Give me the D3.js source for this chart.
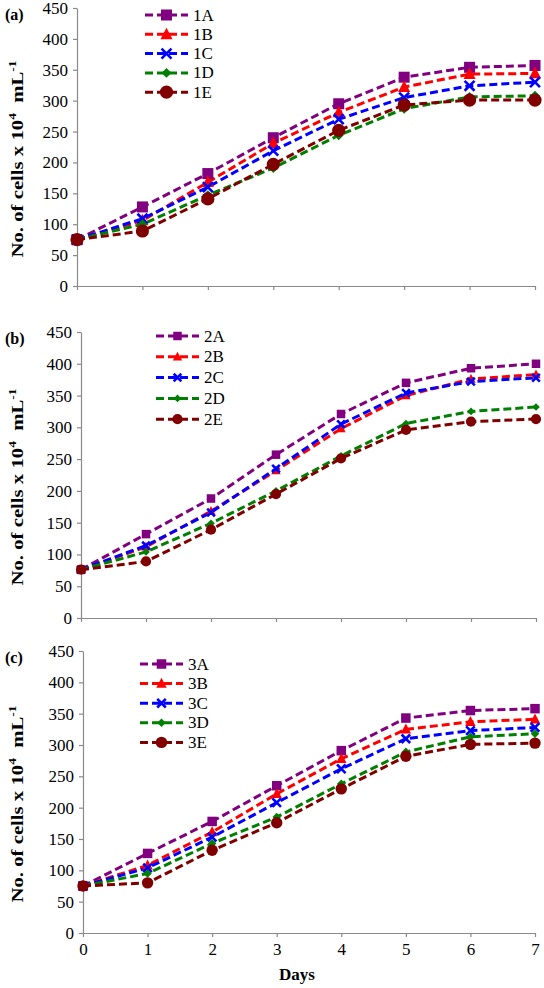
<!DOCTYPE html>
<html>
<head>
<meta charset="utf-8">
<script src="https://cdn.jsdelivr.net/npm/d3@7/dist/d3.min.js"></script>
<style>
  html, body { margin: 0; padding: 0; background: #fff; }
  svg { display: block; }
  svg text { font-family: "Liberation Serif", "DejaVu Serif", serif !important; }
</style>
</head>
<body>
<svg id="chart" width="544" height="988"></svg>
<script>
// ---- data ----
const days = [0, 1, 2, 3, 4, 5, 6, 7];
const yTicks = [0, 50, 100, 150, 200, 250, 300, 350, 400, 450];
const panelLabels = ["(a)", "(b)", "(c)"];

const namesA = ["1A", "1B", "1C", "1D", "1E"];
const s1A = [75, 128, 182, 240, 295, 338, 354, 357];
const s1B = [75, 106, 168, 231, 281, 322, 343, 344];
const s1C = [75, 109, 160, 219, 270, 305, 324, 330];
const s1D = [75, 100, 147, 191, 244, 287, 306, 308];
const s1E = [75, 89, 141, 197, 252, 293, 301, 301];

const namesB = ["2A", "2B", "2C", "2D", "2E"];
const s2A = [76, 132, 188, 257, 321, 370, 393, 400];
const s2B = [76, 112, 168, 232, 298, 350, 376, 383];
const s2C = [76, 114, 166, 235, 305, 354, 372, 378];
const s2D = [76, 104, 149, 200, 255, 306, 325, 332];
const s2E = [76, 89, 139, 195, 251, 296, 309, 313];

const namesC = ["3A", "3B", "3C", "3D", "3E"];
const s3A = [75, 127, 178, 235, 291, 343, 355, 358];
const s3B = [75, 108, 161, 222, 278, 325, 337, 341];
const s3C = [75, 104, 153, 208, 262, 310, 323, 328];
const s3D = [75, 95, 143, 185, 238, 289, 313, 318];
const s3E = [75, 80, 132, 176, 230, 282, 301, 303];

// ---- styles ----
const colors = ["#800080", "#FF0000", "#0000FF", "#008000", "#800000"];
const shapes = ["square", "triangle", "x", "diamond", "circle"];

const panels = [
  { label: panelLabels[0], names: namesA, series: [s1A, s1B, s1C, s1D, s1E],
    x0: 77, x1: 535, yb: 286, yt: 8, ms: 1.1, legX: 145, legY: 15, legStep: 19.3, xLabels: false },
  { label: panelLabels[1], names: namesB, series: [s2A, s2B, s2C, s2D, s2E],
    x0: 81, x1: 536, yb: 618, yt: 332, ms: 0.85, legX: 156, legY: 336, legStep: 20.8, xLabels: false },
  { label: panelLabels[2], names: namesC, series: [s3A, s3B, s3C, s3D, s3E],
    x0: 83, x1: 535, yb: 933, yt: 651, ms: 0.95, legX: 140, legY: 664, legStep: 19.6, xLabels: true }
];

const svg = d3.select("#chart");
const axisColor = "#8a8a8a";
const serif = "'Liberation Serif', 'DejaVu Serif', serif";

function drawMarker(g, shape, cx, cy, color, k) {
  if (shape === "square") {
    const s = 10 * k;
    g.append("rect").attr("x", cx - s / 2).attr("y", cy - s / 2).attr("width", s).attr("height", s).attr("fill", color);
  } else if (shape === "triangle") {
    const s = 11 * k;
    g.append("path").attr("d", `M${cx},${cy - s * 0.55} L${cx + s / 2},${cy + s * 0.4} L${cx - s / 2},${cy + s * 0.4} Z`).attr("fill", color);
  } else if (shape === "x") {
    const s = 4.5 * k;
    g.append("path").attr("d", `M${cx - s},${cy - s} L${cx + s},${cy + s} M${cx - s},${cy + s} L${cx + s},${cy - s}`)
      .attr("stroke", color).attr("stroke-width", 2.6).attr("fill", "none");
  } else if (shape === "diamond") {
    const s = 4.5 * k;
    g.append("path").attr("d", `M${cx},${cy - s} L${cx + s},${cy} L${cx},${cy + s} L${cx - s},${cy} Z`).attr("fill", color);
  } else if (shape === "circle") {
    g.append("circle").attr("cx", cx).attr("cy", cy).attr("r", 6 * k).attr("fill", color);
  }
}

panels.forEach((p) => {
  const g = svg.append("g");
  const x = d3.scaleLinear().domain([0, 7]).range([p.x0, p.x1]);
  const y = d3.scaleLinear().domain([0, 450]).range([p.yb, p.yt]);

  // y axis
  const yAxis = g.append("g").attr("transform", `translate(${p.x0},0)`)
    .call(d3.axisLeft(y).tickValues(yTicks).tickSize(4).tickSizeOuter(0).tickPadding(5));
  yAxis.attr("font-family", serif);
  yAxis.select(".domain").attr("stroke", axisColor).attr("stroke-width", 1.2);
  yAxis.selectAll(".tick line").attr("stroke", axisColor).attr("stroke-width", 1.2);
  yAxis.selectAll(".tick text").attr("font-size", 17).attr("fill", "#000").style("font-family", serif);

  // x axis
  const xAxis = g.append("g").attr("transform", `translate(0,${p.yb})`)
    .call(d3.axisBottom(x).tickValues(days).tickSize(4).tickSizeOuter(0).tickPadding(6)
      .tickFormat(p.xLabels ? d3.format("d") : () => ""));
  xAxis.attr("font-family", serif);
  xAxis.select(".domain").attr("stroke", axisColor).attr("stroke-width", 1.2);
  xAxis.selectAll(".tick line").attr("stroke", axisColor).attr("stroke-width", 1.2);
  xAxis.selectAll(".tick text").attr("font-size", 17).attr("fill", "#000").style("font-family", serif);

  // panel label
  g.append("text").attr("x", 5).attr("y", p.yt + 12).attr("font-size", 16).attr("font-weight", "bold")
    .style("font-family", serif).text(p.label);

  // y title (stretched along its direction like the reference)
  const midY = (p.yt + p.yb) / 2 + 12;
  const yt = g.append("text").attr("transform", `translate(23,${midY}) rotate(-90) scale(1.22,1)`)
    .attr("text-anchor", "middle").attr("font-size", 17).attr("font-weight", "bold").style("font-family", serif);
  yt.append("tspan").text("No. of cells x 10");
  yt.append("tspan").attr("dy", -7).attr("font-size", 11).text("4");
  yt.append("tspan").attr("dy", 7).text("\u00a0 mL");
  yt.append("tspan").attr("dy", -7).attr("font-size", 11).text("-1");

  const line = d3.line().x((d, i) => x(days[i])).y((d) => y(d));

  // lines
  p.series.forEach((s, si) => {
    g.append("path").datum(s).attr("d", line).attr("fill", "none")
      .attr("stroke", colors[si]).attr("stroke-width", 3).attr("stroke-dasharray", "8,4");
  });
  // markers
  p.series.forEach((s, si) => {
    const mg = g.append("g");
    s.forEach((v, i) => drawMarker(mg, shapes[si], x(days[i]), y(v), colors[si], p.ms));
  });

  // legend
  p.names.forEach((n, si) => {
    const ly = p.legY + si * p.legStep;
    const lg = g.append("g");
    lg.append("line").attr("x1", p.legX).attr("x2", p.legX + 43).attr("y1", ly).attr("y2", ly)
      .attr("stroke", colors[si]).attr("stroke-width", 3).attr("stroke-dasharray", "8,4");
    drawMarker(lg, shapes[si], p.legX + 21.5, ly, colors[si], p.ms);
    lg.append("text").attr("x", p.legX + 48).attr("y", ly + 5.5).attr("font-size", 17)
      .style("font-family", serif).text(n);
  });
});

// x title
svg.append("text").attr("x", 297).attr("y", 980).attr("text-anchor", "middle")
  .attr("font-size", 17).attr("font-weight", "bold").style("font-family", serif).text("Days");
</script>
</body>
</html>
